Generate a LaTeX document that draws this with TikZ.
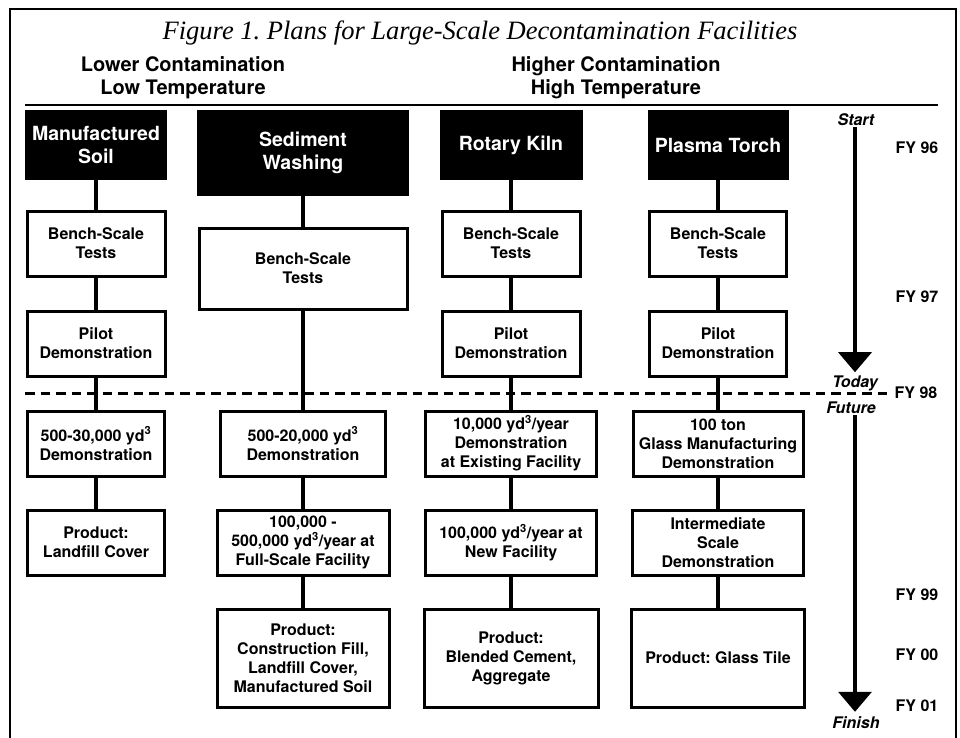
\documentclass[tikz,border=0pt]{standalone}
\usepackage{fontspec}
\setmainfont{TeX Gyre Heros}
\newfontfamily\captionserif{Liberation Serif}
\usepackage{tikz}
\usetikzlibrary{arrows.meta, positioning}
\frenchspacing
\newcommand{\figtitlefont}{\captionserif\itshape\fontsize{26.5}{30}\selectfont}
\newcommand{\groupfont}{\fontsize{20}{23}\selectfont\bfseries}
\newcommand{\headfont}{\fontsize{19.5}{23.5}\selectfont\bfseries}
\newcommand{\stepfont}{\fontsize{16}{19}\selectfont\bfseries}
\newcommand{\timefont}{\fontsize{16}{19}\selectfont\bfseries\itshape}

\begin{document}
\begin{tikzpicture}[
    x=1pt, y=-1pt,
    headbox/.style={fill=black, text=white, font=\headfont, align=center, inner sep=0pt, outer sep=0pt},
    stepbox/.style={draw, line width=3pt, fill=white, font=\stepfont, align=center, inner sep=0pt, outer sep=0pt, minimum height=65pt},
    link/.style={line width=4pt},
    rule/.style={line width=2.5pt},
    divider/.style={line width=3pt, dash pattern=on 9.5pt off 6pt},
    timeline/.style={line width=3.5pt, -{Triangle[width=33pt, length=20pt]}},
    timelabel/.style={font=\timefont, inner sep=1pt},
    fylabel/.style={font=\stepfont, inner sep=1pt}
]

\useasboundingbox (0,0) rectangle (960,738);

% Frame and title
\draw[rule] (10,738) -- (10,9) -- (956,9) -- (956,738);
\node[font=\figtitlefont] (title) at (480,33) {Figure 1. Plans for Large-Scale Decontamination Facilities};

% Group headings
\node[font=\groupfont, align=center] (lower) at (183,78) {Lower Contamination\\Low Temperature};
\node[font=\groupfont, align=center] (higher) at (616,78) {Higher Contamination\\High Temperature};
\coordinate (ruleleft) at (25,105);
\coordinate (ruleright) at (938,105);
\draw[rule] (ruleleft) -- (ruleright);

% Technology headers
\node[headbox, anchor=north, minimum width=142pt, minimum height=70pt] (soil) at (96,110) {Manufactured\\Soil};
\node[headbox, anchor=north, minimum width=212pt, minimum height=86pt] (wash) at (303,110) {Sediment\\Washing};
\node[headbox, anchor=north, minimum width=143pt, minimum height=70pt] (kiln) at (511,110) {Rotary Kiln};
\node[headbox, anchor=north, minimum width=141pt, minimum height=70pt] (torch) at (718,110) {Plasma Torch};

% Manufactured soil
\node[stepbox, minimum width=138pt, below=31pt of soil] (soilbench) {Bench-Scale\\Tests};
\node[stepbox, minimum width=138pt, below=35pt of soilbench] (soilpilot) {Pilot\\Demonstration};
\node[stepbox, minimum width=137pt, below=35pt of soilpilot] (soildemo) {500-30,000 yd\textsuperscript{3}\\Demonstration};
\node[stepbox, minimum width=137pt, below=34pt of soildemo] (soilprod) {Product:\\Landfill Cover};

% Sediment washing
\node[stepbox, minimum width=208pt, minimum height=81pt, below=32pt of wash] (washbench) {Bench-Scale\\Tests};
\node[stepbox, minimum width=165pt] (washdemo) at (washbench |- soildemo) {500-20,000 yd\textsuperscript{3}\\Demonstration};
\node[stepbox, minimum width=172pt, below=34pt of washdemo] (washfull) {100,000 -\\500,000 yd\textsuperscript{3}/year at\\Full-Scale Facility};
\node[stepbox, minimum width=172pt, minimum height=98pt, below=34pt of washfull] (washprod) {Product:\\Construction Fill,\\Landfill Cover,\\Manufactured Soil};

% Rotary kiln
\node[stepbox, minimum width=138pt, below=31pt of kiln] (kilnbench) {Bench-Scale\\Tests};
\node[stepbox, minimum width=138pt, below=35pt of kilnbench] (kilnpilot) {Pilot\\Demonstration};
\node[stepbox, minimum width=171pt, below=35pt of kilnpilot] (kilndemo) {10,000 yd\textsuperscript{3}/year\\Demonstration\\at Existing Facility};
\node[stepbox, minimum width=171pt, below=34pt of kilndemo] (kilnnew) {100,000 yd\textsuperscript{3}/year at\\New Facility};
\node[stepbox, minimum width=174pt, minimum height=98pt, below=34pt of kilnnew] (kilnprod) {Product:\\Blended Cement,\\Aggregate};

% Plasma torch
\node[stepbox, minimum width=137pt, below=31pt of torch] (torchbench) {Bench-Scale\\Tests};
\node[stepbox, minimum width=137pt, below=35pt of torchbench] (torchpilot) {Pilot\\Demonstration};
\node[stepbox, minimum width=170pt, below=35pt of torchpilot] (torchdemo) {100 ton\\Glass Manufacturing\\Demonstration};
\node[stepbox, minimum width=171pt, below=34pt of torchdemo] (torchmid) {Intermediate\\Scale\\Demonstration};
\node[stepbox, minimum width=173pt, minimum height=98pt, below=34pt of torchmid] (torchprod) {Product: Glass Tile};

% Fiscal years
\node[fylabel] (fy96) at (917,148) {FY 96};
\node[fylabel] (fy97) at (917,297) {FY 97};
\node[fylabel] (fy98) at (916,393) {FY 98};
\node[fylabel] (fy99) at (917,595) {FY 99};
\node[fylabel] (fy00) at (917,655) {FY 00};
\node[fylabel] (fy01) at (917,706) {FY 01};

% Today / future divider
\coordinate (divstart) at (25,393);
\draw[divider, shorten >=5pt] (divstart) -- (fy98.west);

% Connectors
\draw[link] (soil.south) -- (soilbench.north);
\draw[link] (soilbench.south) -- (soilpilot.north);
\draw[link] (soilpilot.south) -- (soildemo.north);
\draw[link] (soildemo.south) -- (soilprod.north);
\draw[link] (wash.south) -- (washbench.north);
\draw[link] (washbench.south) -- (washdemo.north);
\draw[link] (washdemo.south) -- (washfull.north);
\draw[link] (washfull.south) -- (washprod.north);
\draw[link] (kiln.south) -- (kilnbench.north);
\draw[link] (kilnbench.south) -- (kilnpilot.north);
\draw[link] (kilnpilot.south) -- (kilndemo.north);
\draw[link] (kilndemo.south) -- (kilnnew.north);
\draw[link] (kilnnew.south) -- (kilnprod.north);
\draw[link] (torch.south) -- (torchbench.north);
\draw[link] (torchbench.south) -- (torchpilot.north);
\draw[link] (torchpilot.south) -- (torchdemo.north);
\draw[link] (torchdemo.south) -- (torchmid.north);
\draw[link] (torchmid.south) -- (torchprod.north);

% Timeline
\node[timelabel] (start) at (856,120) {Start};
\node[timelabel] (today) at (855,383) {Today};
\node[timelabel] (future) at (851,408) {Future};
\node[timelabel] (finish) at (856,723) {Finish};
\draw[timeline, shorten >=2pt] (start.south -| today.north) -- (today.north);
\draw[timeline, shorten >=4pt] (future.south -| today.north) -- (finish.north -| today.north);

\end{tikzpicture}
\end{document}
